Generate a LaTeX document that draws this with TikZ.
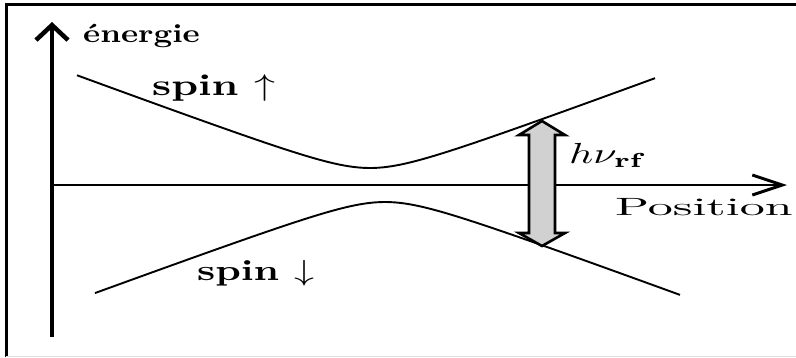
\documentclass[tikz,border=0pt]{standalone}
\usepackage{graphicx}
\usetikzlibrary{arrows.meta}
\newcommand{\etire}[3]{\scalebox{#1}[#2]{#3}}

\begin{document}
\begin{tikzpicture}[x=1pt,y=-1pt,
  lbl/.style={inner sep=0pt, anchor=base west},
  courbe/.style={line width=1.9pt, line join=round}]
  \useasboundingbox (0,0) rectangle (796,357);
  % cadre
  \draw[line width=3pt] (6,357) -- (6,4) -- (796,4);
  \draw[black!12, line width=1pt] (6,356) -- (796,356);
  % axes
  \coordinate (Ebas) at (52,337);
  \coordinate (Ehaut) at (52,22);
  \coordinate (O) at (52,185);
  \coordinate (Xfin) at (787,185);
  \draw[line width=3.6pt, -{Straight Barb[length=15pt,width=32pt,line width=4.5pt]}] (Ebas) -- (Ehaut);
  \draw[line width=2.4pt, -{Straight Barb[length=30pt,width=20pt,line width=3pt]}] (O) -- (Xfin);
  \node[lbl] (energie) at (83,42) {\bfseries\etire{3.25}{2.6}{énergie}};
  \node[lbl] (pos) at (615,215) {\etire{5.0}{2.5}{Position}};
  % niveaux
  \draw[courbe] plot[domain=77:655, samples=120] (\x, {185 - sqrt(289 + (0.37*(\x-370))^2)});
  \draw[courbe] plot[domain=95:680, samples=120] (\x, {185 + sqrt(289 + (0.368*(\x-385))^2)});
  \node[lbl] (spinhaut) at (152,95) {\bfseries\etire{4.2}{3.0}{spin $\uparrow$}};
  \node[lbl] (spinbas) at (197,280) {\bfseries\etire{4.0}{2.9}{spin $\downarrow$}};
  % transition rf
  \coordinate (Rh) at (542,121);
  \coordinate (Rb) at (542,246);
  \filldraw[fill=black!18, line width=2.6pt, line join=miter]
       (Rh) -- ++(23,14) -- ++(-10,0) -- ++(0,98) -- ++(10,0) -- (Rb)
       -- ++(-23,-13) -- ++(10,0) -- ++(0,-98) -- ++(-10,0) -- cycle;
  \node[lbl] (hnu) at (569,163) {\etire{4.2}{2.9}{$h\nu_{\mathbf{rf}}$}};
\end{tikzpicture}
\end{document}
